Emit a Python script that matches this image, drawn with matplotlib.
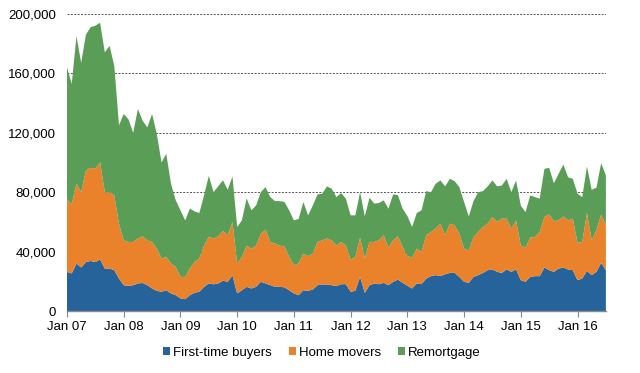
import matplotlib
matplotlib.use("Agg")
import matplotlib.pyplot as plt
from matplotlib.patches import Patch
from matplotlib.ticker import FuncFormatter
import numpy as np

plt.rcParams['font.family'] = ['Liberation Sans', 'DejaVu Sans']

# Monthly values, Jan 2007 .. Jul 2016 (thousands of loans)
first_time_buyers = [
    26.4, 25.3, 32.0, 29.3, 33.0, 33.7, 33.0, 34.7, 28.6, 28.6, 27.5, 21.9,
    17.4, 17.0, 17.4, 18.6, 18.9, 17.4, 15.2, 13.6, 13.0, 14.0, 11.9, 10.7,
    8.5, 8.0, 10.7, 12.3, 13.0, 16.3, 18.6, 18.0, 18.6, 20.4, 19.7, 24.0,
    11.9, 14.0, 16.3, 15.2, 16.3, 19.7, 18.6, 17.5, 16.3, 16.3, 16.0, 14.0,
    11.9, 10.7, 14.0, 13.6, 14.5, 17.4, 17.9, 17.9, 17.4, 16.8, 18.1, 18.1,
    13.0, 13.6, 23.0, 12.3, 17.4, 18.6, 18.1, 19.0, 17.4, 19.7, 21.2, 19.0,
    17.0, 15.2, 18.6, 18.1, 21.9, 23.5, 24.2, 23.5, 24.8, 25.7, 25.7, 23.0,
    19.7, 19.0, 23.0, 24.2, 25.7, 27.5, 28.0, 26.4, 25.7, 28.0, 26.4, 28.0,
    20.8, 19.7, 23.0, 23.5, 23.5, 29.3, 27.5, 26.4, 28.6, 29.3, 28.0, 27.5,
    20.8, 21.9, 27.0, 24.2, 26.4, 32.4, 27.5,
]
home_movers = [
    48.6, 46.7, 53.7, 50.7, 61.6, 62.7, 62.7, 65.3, 51.4, 51.4, 50.3, 36.9,
    30.2, 29.5, 29.1, 30.2, 31.4, 30.2, 31.3, 28.4, 22.4, 22.4, 20.1, 19.0,
    14.5, 15.0, 17.9, 20.7, 22.4, 27.7, 31.4, 30.8, 31.7, 33.6, 31.3, 36.0,
    20.1, 22.4, 27.7, 26.8, 27.7, 32.3, 36.2, 29.0, 29.1, 27.7, 27.6, 22.4,
    19.0, 21.3, 24.7, 23.3, 24.2, 29.1, 29.7, 30.9, 30.2, 27.2, 28.4, 25.9,
    21.7, 22.8, 26.4, 23.1, 29.1, 27.9, 29.5, 32.0, 25.3, 27.9, 29.1, 24.1,
    20.0, 20.8, 23.4, 21.7, 29.1, 29.7, 31.3, 35.3, 26.2, 33.1, 32.0, 29.0,
    22.3, 21.9, 26.9, 29.0, 30.9, 31.3, 35.3, 33.6, 36.5, 34.2, 29.1, 33.0,
    23.2, 23.0, 26.4, 26.4, 29.7, 34.0, 37.5, 34.2, 32.4, 34.4, 33.0, 34.7,
    25.1, 24.6, 39.0, 23.4, 28.0, 32.6, 30.2,
]
remortgage = [
    89.0, 80.8, 99.3, 87.0, 91.4, 94.6, 96.3, 94.0, 94.0, 98.5, 87.2, 66.2,
    85.0, 82.5, 73.5, 87.2, 77.7, 76.0, 86.1, 77.0, 64.6, 69.4, 53.7, 44.8,
    44.8, 38.0, 40.4, 34.0, 30.6, 34.0, 41.0, 31.2, 33.7, 34.0, 30.6, 30.6,
    24.6, 24.6, 31.8, 25.8, 27.0, 28.0, 28.6, 30.2, 28.6, 30.0, 29.8, 31.4,
    30.1, 30.0, 34.7, 27.5, 32.3, 32.0, 31.4, 35.1, 34.7, 32.7, 32.9, 31.6,
    29.7, 28.0, 30.6, 28.3, 29.8, 25.8, 25.1, 23.5, 26.2, 30.9, 27.7, 25.8,
    27.0, 20.6, 24.0, 28.0, 29.7, 26.8, 30.2, 29.1, 32.9, 30.2, 29.7, 31.4,
    31.4, 22.8, 24.1, 26.8, 24.1, 25.1, 24.6, 23.9, 22.3, 26.8, 24.5, 26.9,
    27.0, 23.9, 28.4, 26.8, 22.4, 32.4, 31.4, 25.4, 31.4, 34.9, 29.0, 26.8,
    33.1, 30.2, 31.3, 34.0, 28.6, 34.5, 33.6,
]
series_names = ["First-time buyers", "Home movers", "Remortgage"]
colors = ["#27639b", "#e9822b", "#5a9d57"]
tick_labels = ["Jan 07", "Jan 08", "Jan 09", "Jan 10", "Jan 11",
               "Jan 12", "Jan 13", "Jan 14", "Jan 15", "Jan 16"]
y_ticks = [0, 40000, 80000, 120000, 160000, 200000]

ftb = np.array(first_time_buyers) * 1000
hm = np.array(home_movers) * 1000
rm = np.array(remortgage) * 1000
months = np.arange(len(ftb))

fig = plt.figure(figsize=(6.4, 3.73), dpi=100)
ax = fig.add_axes([0.1047, 0.166, 0.842, 0.797])

ax.stackplot(months, ftb, hm, rm, colors=colors, linewidth=0)

ax.set_xlim(0, len(ftb) - 1)
ax.set_ylim(0, 200000)
ax.set_yticks(y_ticks)
ax.yaxis.set_major_formatter(FuncFormatter(lambda v, p: f"{int(v):,}"))
ax.set_xticks(np.arange(0, 12 * len(tick_labels), 12))
ax.set_xticklabels(tick_labels)

for v in y_ticks[1:]:
    ax.axhline(v, color="#555555", linestyle=(0, (2, 1.5)), linewidth=0.7, zorder=0.5)
ax.set_axisbelow(False)

for s in ["top", "right", "left"]:
    ax.spines[s].set_visible(False)
ax.spines["bottom"].set_color("#888888")
ax.spines["bottom"].set_linewidth(1.0)
ax.tick_params(axis="x", length=4, color="#888888", labelsize=9.5, pad=3)
ax.tick_params(axis="y", length=0, labelsize=9.5, pad=8)

handles = [Patch(facecolor=c, edgecolor="none") for c in colors]
fig.legend(handles, series_names, loc="center", bbox_to_anchor=(0.503, 0.054),
           ncol=3, frameon=False, fontsize=9.5, handlelength=0.5, handleheight=0.5,
           handletextpad=0.25, columnspacing=1.3)

fig.savefig("out.png", dpi=100)
